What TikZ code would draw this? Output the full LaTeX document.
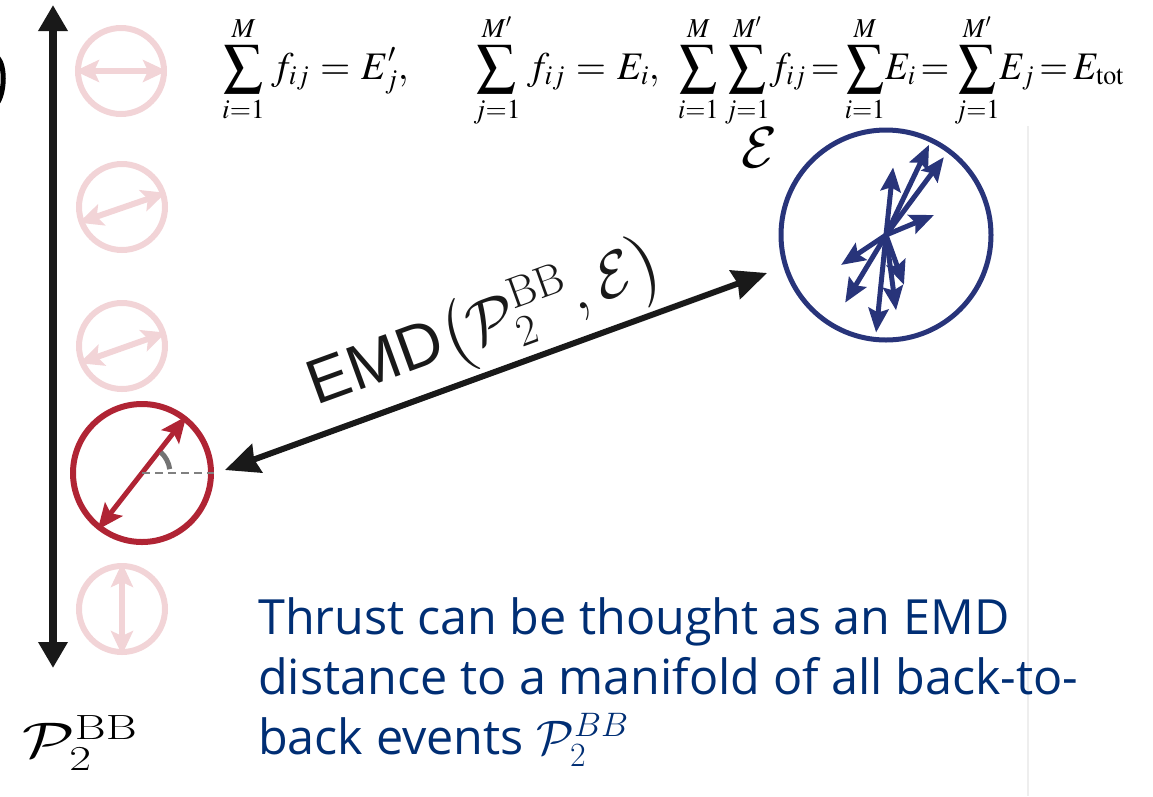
\documentclass[tikz,border=0pt]{standalone}
\usepackage[no-math]{fontspec}
\usetikzlibrary{arrows.meta,positioning}
\DeclareFontShape{OT1}{cmr}{m}{n}{<-8>cmr7 <8-11>cmr10 <11-15>cmr12 <15->cmr17}{}
\DeclareFontShape{OML}{cmm}{m}{it}{<-8>cmmi7 <8-11>cmmi10 <11->cmmi12}{}
\DeclareFontShape{OMS}{cmsy}{m}{n}{<-8>cmsy7 <8->cmsy10}{}
\DeclareFontShape{OMX}{cmex}{m}{n}{<->cmex10}{}
\newfontfamily\notefont{Open Sans}
\newfontfamily\emdfont{Liberation Sans}
\DeclareMathVersion{times}
\SetSymbolFont{operators}{times}{OT1}{ztmcm}{m}{n}
\SetSymbolFont{letters}{times}{OML}{ztmcm}{m}{it}
\SetSymbolFont{symbols}{times}{OMS}{ztmcm}{m}{n}
\SetSymbolFont{largesymbols}{times}{OMX}{ztmcm}{m}{n}
\newcommand\eqfirst{$\displaystyle\sum_{i=1}^{M} f_{ij} = E^{\prime}_j,$}
\newcommand\eqsecond{$\displaystyle\sum_{j=1}^{M^{\prime}} f_{ij} = E_i,$}
\newcommand\eqthird{\scalebox{0.95}[1]{$\thickmuskip=2.5mu\displaystyle\sum_{i=1}^{M}\sum_{j=1}^{M^{\prime}}\! f_{ij} = \sum_{i=1}^{M}\! E_i = \sum_{j=1}^{M^{\prime}}\! E_j = E_{\mathrm{tot}}$}}
\definecolor{faintred}{RGB}{242,212,215}
\definecolor{thrustred}{RGB}{176,36,52}
\definecolor{evnavy}{RGB}{40,52,122}
\definecolor{notenavy}{RGB}{0,46,116}
\definecolor{edgegray}{RGB}{238,238,238}

\begin{document}
\begin{tikzpicture}[
		x=1pt, y=1pt,
		faintcirc/.style={circle, draw=faintred, line width=6pt, minimum size=86pt, inner sep=0pt},
		faintarrow/.style={{Stealth[length=24pt,width=22pt,inset=5pt]}-{Stealth[length=24pt,width=22pt,inset=5pt]}, faintred, line width=6pt},
		bbcirc/.style={circle, draw=thrustred, line width=6pt, minimum size=138pt, inner sep=0pt},
		bbarrow/.style={{Stealth[length=26pt,width=22pt,inset=5pt]}-{Stealth[length=26pt,width=22pt,inset=5pt]}, thrustred, line width=5pt},
		evcirc/.style={circle, draw=evnavy, line width=5pt, minimum size=210pt, inner sep=0pt},
		evarrow/.style={-{Stealth[length=24pt,width=20pt,inset=4pt]}, evnavy, line width=5pt},
		bigarrow/.style={{Triangle[length=26pt,width=28pt]}-{Triangle[length=26pt,width=28pt]}, black!90, line width=8pt},
		emdarrow/.style={{Stealth[length=34pt,width=30pt,inset=3pt]}-{Stealth[length=34pt,width=30pt,inset=3pt]}, black!90, line width=6pt},
		eqnode/.style={inner sep=0pt, font=\fontsize{39}{40}\selectfont\mathversion{times}}
	]
		\useasboundingbox (0,0) rectangle (1153,-796);

		% manifold of back-to-back events
		\coordinate (axtop) at (53,-5);
		\coordinate (axbot) at (53,-668);
		\draw[bigarrow] (axtop) -- (axbot);
		\draw[line width=5pt] (-2,-58) .. controls (5,-66) and (5,-90) .. (-2,-102);

		\node[faintcirc] (bb1) at (121,-71) {};
		\node[faintcirc] (bb2) at (122,-207) {};
		\node[faintcirc] (bb3) at (122,-346) {};
		\node[bbcirc] (bb) at (142,-473) {};
		\node[faintcirc] (bb5) at (122,-609) {};
		\draw[faintarrow] (bb1.180) -- (bb1.0);
		\draw[faintarrow] (bb2.200) -- (bb2.18);
		\draw[faintarrow] (bb3.202) -- (bb3.17);
		\draw[faintarrow] (bb5.90) -- (bb5.270);
		\draw[bbarrow] (bb.232) -- (bb.52);
		\draw[gray, line width=2pt, dash pattern=on 8pt off 5pt] (bb.center) -- (bb.east);
		\draw[black!55, line width=5pt] ([shift={(8:28)}]bb.center) arc[start angle=8, end angle=48, radius=28];

		\node[font=\fontsize{50}{50}\selectfont, inner sep=0pt] (bblabel) at (80,-743)
			{\scalebox{1.35}[1]{$\mathcal{P}_2^{\mathrm{BB}}$}};

		% event
		\node[evcirc] (ev) at (886,-235) {};
		\foreach \ang/\len in {64.5/100, 53.4/97, 84/68, 22.6/52, 213.7/54, 238.9/79, 264.2/98, 277.6/76, 289.8/53}
			\draw[evarrow] (ev.center) -- ++(\ang:\len);
		\node[font=\fontsize{58}{58}\selectfont, inner sep=0pt] (evlabel) at (759,-148) {$\mathcal{E}$};

		% EMD between the two
		\coordinate (emdA) at (225,-470);
		\coordinate (emdB) at (767,-273);
		\draw[emdarrow] (emdA) -- (emdB)
			node[pos=0.51, above=4pt, sloped, inner sep=0pt, font=\fontsize{63}{63}\selectfont]
			{{\emdfont EMD}$\left(\mathcal{P}_2^{\mathrm{BB}},\mathcal{E}\right)$};

		\draw[edgegray, line width=1.5pt] (1028,-125) -- (1028,-796);

		% constraints
		\fill[white] (195,0) rectangle (1153,-126);
		\node[eqnode, anchor=base west] (eqi) at (222,-79) {\eqfirst};
		\node[eqnode, anchor=base west] (eqj) at (473,-79) {\eqsecond};
		\node[eqnode, anchor=base west] (eqtot) at (678,-79) {\eqthird};

		% note
		\node[anchor=base west, align=left, inner sep=0pt, text=notenavy, font=\notefont\fontsize{48.5}{60}\selectfont] (note) at (258,-754)
			{Thrust can be thought as an EMD\\distance to a manifold of all back-to-\\back events $\mathcal{P}_2^{BB}$};
	\end{tikzpicture}
\end{document}
